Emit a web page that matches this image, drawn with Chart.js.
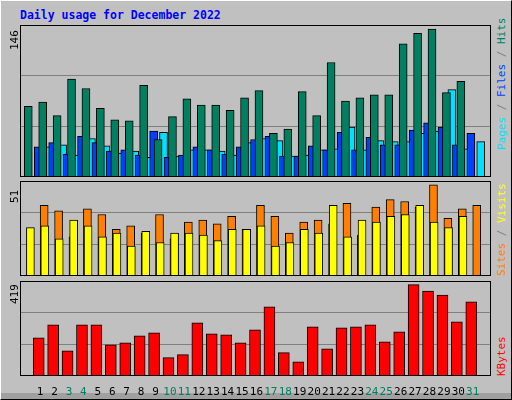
<!DOCTYPE html>
<html><head><meta charset="utf-8">
<script src="https://cdn.jsdelivr.net/npm/chart.js@4"></script>
<style>
body{margin:0;width:512px;height:400px;background:#c0c0c0;position:relative;overflow:hidden;font-family:"DejaVu Sans Mono",monospace}
#frame{position:absolute;left:0;top:0;width:510px;height:398px;border-left:1px solid #fff;border-top:1px solid #fff;border-right:1px solid #000;border-bottom:1px solid #000}
#shade{position:absolute;left:1px;top:393px;width:510px;height:6px;background:#a0a0a0}
.box{position:absolute}
.rot{position:absolute;transform:rotate(-90deg);transform-origin:left top;white-space:nowrap;font-size:11px}
#title{position:absolute;left:20px;top:8px;color:#0000ff;font-weight:bold;font-size:11.5px}
</style></head><body>
<div id="frame"></div><div id="shade"></div>
<div id="title">Daily usage for December 2022</div>
<div class="box" style="left:20px;top:25px;width:471px;height:152px"><canvas id="c1"></canvas></div>
<div class="box" style="left:20px;top:181px;width:471px;height:95px"><canvas id="c2"></canvas></div>
<div class="box" style="left:20px;top:281px;width:471px;height:114px"><canvas id="c3"></canvas></div>
<div class="rot" style="left:8px;top:50px;color:#000">146</div>
<div class="rot" style="left:8px;top:203px;color:#000">51</div>
<div class="rot" style="left:8px;top:304px;color:#000">419</div>
<div class="rot" style="left:495px;top:150px"><span style="color:#00e0ff">Pages</span><span style="color:#808080"> / </span><span style="color:#0040ff">Files</span><span style="color:#808080"> / </span><span style="color:#008060">Hits</span></div>
<div class="rot" style="left:495px;top:276px"><span style="color:#ff8000">Sites</span><span style="color:#808080"> / </span><span style="color:#ffff00">Visits</span></div>
<div class="rot" style="left:495px;top:376px"><span style="color:#ff0000">KBytes</span></div>
<script>
var days = [1,2,3,4,5,6,7,8,9,10,11,12,13,14,15,16,17,18,19,20,21,22,23,24,25,26,27,28,29,30,31];
var weekendDays = [3,4,10,11,17,18,24,25,31];
var hits = [68,72,59,94,85,66,55,54,88,36,58,75,69,69,64,76,83,42,46,82,59,110,73,76,79,79,128,138,142,81,92];
var files = [29,33,22,39,33,25,26,21,44,19,21,29,26,22,29,36,39,20,20,30,26,43,26,38,31,31,45,52,48,31,42];
var pages = [29,31,21,37,30,23,25,19,43,20,26,26,25,21,33,37,35,20,21,26,27,48,26,35,34,34,42,44,84,27,34];
var visits = [38,35,21,36,33,25,27,23,33,20,29,30,28,32,25,38,32,23,29,30,28,39,22,37,41,40,37,49,31,36,38];
var sites = [26,27,20,30,27,21,23,16,24,18,23,23,22,19,25,25,27,16,18,25,23,38,21,30,29,32,33,38,29,26,32];
var kbytes = [168,226,111,226,226,138,146,177,190,81,94,234,186,182,146,204,305,103,63,217,120,212,217,226,151,195,403,375,357,239,327];
var maxHits = 146, maxVisits = 51, maxKb = 419;

function pts(arr, off){ return arr.map(function(v,i){ return {x: days[i] + off, y: v}; }); }

var framePlugin = {
  id: 'frameBox',
  beforeDraw: function(c){
    var a = c.chartArea, x = c.ctx;
    x.save(); x.fillStyle = '#c0c0c0'; x.fillRect(a.left, a.top, a.width, a.height); x.restore();
  },
  afterDraw: function(c){
    var a = c.chartArea, x = c.ctx;
    x.save(); x.lineWidth = 1;
    x.strokeStyle = '#000'; x.strokeRect(a.left + 0.5, a.top + 0.5, a.width - 1, a.height - 1);
    x.restore();
  }
};

function opts(max, showX){
  return {
    responsive: true, maintainAspectRatio: false, animation: false,
    layout: {padding: 0},
    plugins: {legend: {display: false}, tooltip: {enabled: false}},
    scales: {
      x: {
        type: 'linear', min: 0.128, max: 31.74, display: showX,
        grid: {display: false}, border: {display: false},
        afterBuildTicks: function(s){ s.ticks = days.map(function(d){ return {value: d}; }); },
        afterFit: function(s){ s.height = showX ? 19 : 0; },
        ticks: {
          autoSkip: false, maxRotation: 0, padding: 2,
          font: {family: 'DejaVu Sans Mono', size: 11},
          color: function(ctx){ return weekendDays.indexOf(ctx.tick.value) >= 0 ? '#008060' : '#000'; },
          callback: function(v){ return String(v); }
        }
      },
      y: {
        min: 0, max: max,
        afterBuildTicks: function(s){ s.ticks = [0, max/3, 2*max/3, max].map(function(v){ return {value: v}; }); },
        afterFit: function(s){ s.width = 0; },
        ticks: {display: false},
        grid: {color: '#808080', drawTicks: false, lineWidth: function(ctx){ return ctx.tick.value === 0 || ctx.tick.value === max ? 0 : 1; }},
        border: {display: false}
      }
    }
  };
}

function ds(data, color, thick, order){
  return {data: data, backgroundColor: color, borderColor: '#000', borderWidth: 1, barThickness: thick, order: order, borderSkipped: false};
}

new Chart(document.getElementById('c1'), {
  type: 'bar',
  data: {datasets: [
    ds(pts(hits, -0.27), '#008060', 8, 1),
    ds(pts(files, -0.13), '#0040ff', 8, 2),
    ds(pts(pages, 0), '#00e0ff', 8, 3)
  ]},
  options: opts(maxHits, false), plugins: [framePlugin]
});
new Chart(document.getElementById('c2'), {
  type: 'bar',
  data: {datasets: [
    ds(pts(sites, -0.4), '#ffff00', 8, 1),
    ds(pts(visits, 0), '#ff8000', 8, 2)
  ]},
  options: opts(maxVisits, false), plugins: [framePlugin]
});
new Chart(document.getElementById('c3'), {
  type: 'bar',
  data: {datasets: [ ds(pts(kbytes, -0.1), '#ff0000', 11, 1) ]},
  options: opts(maxKb, true), plugins: [framePlugin]
});
</script>
</body></html>
